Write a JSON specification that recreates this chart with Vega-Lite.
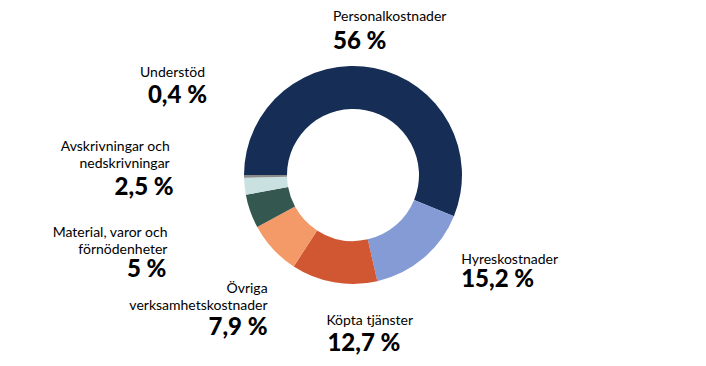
{
  "$schema": "https://vega.github.io/schema/vega-lite/v6.json",
  "width": 706,
  "height": 350,
  "autosize": {"type": "none"},
  "padding": {"left": 0, "top": 0, "right": 0, "bottom": 16},
  "background": "white",
  "config": {"view": {"stroke": null}},
  "data": {"values": [
    {"cat": "Personalkostnader", "value": 56, "idx": 0, "pct": "56 %"},
    {"cat": "Hyreskostnader", "value": 15.2, "idx": 1, "pct": "15,2 %"},
    {"cat": "Köpta tjänster", "value": 12.7, "idx": 2, "pct": "12,7 %"},
    {"cat": "Övriga\nverksamhetskostnader", "value": 7.9, "idx": 3, "pct": "7,9 %"},
    {"cat": "Material, varor och\nförnödenheter", "value": 5, "idx": 4, "pct": "5 %"},
    {"cat": "Avskrivningar och\nnedskrivningar", "value": 2.5, "idx": 5, "pct": "2,5 %"},
    {"cat": "Understöd", "value": 0.4, "idx": 6, "pct": "0,4 %"}
  ]},
  "layer": [
    {
      "mark": {"type": "arc", "innerRadius": 66, "outerRadius": 109},
      "encoding": {
        "theta": {"field": "value", "type": "quantitative", "stack": true, "scale": {"range": [-1.5708, 4.7124]}},
        "order": {"field": "idx", "type": "quantitative"},
        "color": {"field": "cat", "type": "nominal", "legend": null, "sort": null,
          "scale": {"domain": ["Personalkostnader", "Hyreskostnader", "Köpta tjänster", "Övriga\nverksamhetskostnader", "Material, varor och\nförnödenheter", "Avskrivningar och\nnedskrivningar", "Understöd"],
            "range": ["#162d55", "#849bd5", "#d15632", "#f49a69", "#34574f", "#c9e1e1", "#8a8a8a"]}}
      }
    },
    {"mark": {"type": "text", "radius": 130, "align": "left", "baseline": "alphabetic", "dx": -45, "dy": -26, "font": "Lato", "fontSize": 14, "lineBreak": "\n", "lineHeight": 17, "color": "#000000"},
     "encoding": {"theta": {"field": "value", "type": "quantitative", "stack": true}, "order": {"field": "idx", "type": "quantitative"}, "detail": {"field": "cat"}, "text": {"condition": {"test": "datum.idx == 0", "field": "cat"}, "value": ""}}},
    {"mark": {"type": "text", "radius": 130, "align": "left", "baseline": "alphabetic", "dx": -45, "dy": 2, "font": "Lato", "fontSize": 24, "fontWeight": 900, "color": "#000000"},
     "encoding": {"theta": {"field": "value", "type": "quantitative", "stack": true}, "order": {"field": "idx", "type": "quantitative"}, "detail": {"field": "cat"}, "text": {"condition": {"test": "datum.idx == 0", "field": "pct"}, "value": ""}}},
    {"mark": {"type": "text", "radius": 130, "align": "left", "baseline": "alphabetic", "dx": 24, "dy": -10, "font": "Lato", "fontSize": 14, "lineBreak": "\n", "lineHeight": 17, "color": "#000000"},
     "encoding": {"theta": {"field": "value", "type": "quantitative", "stack": true}, "order": {"field": "idx", "type": "quantitative"}, "detail": {"field": "cat"}, "text": {"condition": {"test": "datum.idx == 1", "field": "cat"}, "value": ""}}},
    {"mark": {"type": "text", "radius": 130, "align": "left", "baseline": "alphabetic", "dx": 24, "dy": 13, "font": "Lato", "fontSize": 24, "fontWeight": 900, "color": "#000000"},
     "encoding": {"theta": {"field": "value", "type": "quantitative", "stack": true}, "order": {"field": "idx", "type": "quantitative"}, "detail": {"field": "cat"}, "text": {"condition": {"test": "datum.idx == 1", "field": "pct"}, "value": ""}}},
    {"mark": {"type": "text", "radius": 130, "align": "left", "baseline": "alphabetic", "dx": -4, "dy": 22, "font": "Lato", "fontSize": 14, "lineBreak": "\n", "lineHeight": 17, "color": "#000000"},
     "encoding": {"theta": {"field": "value", "type": "quantitative", "stack": true}, "order": {"field": "idx", "type": "quantitative"}, "detail": {"field": "cat"}, "text": {"condition": {"test": "datum.idx == 2", "field": "cat"}, "value": ""}}},
    {"mark": {"type": "text", "radius": 130, "align": "left", "baseline": "alphabetic", "dx": -3, "dy": 48, "font": "Lato", "fontSize": 24, "fontWeight": 900, "color": "#000000"},
     "encoding": {"theta": {"field": "value", "type": "quantitative", "stack": true}, "order": {"field": "idx", "type": "quantitative"}, "detail": {"field": "cat"}, "text": {"condition": {"test": "datum.idx == 2", "field": "pct"}, "value": ""}}},
    {"mark": {"type": "text", "radius": 130, "align": "right", "baseline": "alphabetic", "dx": 10, "dy": 30, "font": "Lato", "fontSize": 14, "lineBreak": "\n", "lineHeight": 17, "color": "#000000"},
     "encoding": {"theta": {"field": "value", "type": "quantitative", "stack": true}, "order": {"field": "idx", "type": "quantitative"}, "detail": {"field": "cat"}, "text": {"condition": {"test": "datum.idx == 3", "field": "cat"}, "value": ""}}},
    {"mark": {"type": "text", "radius": 130, "align": "right", "baseline": "alphabetic", "dx": 10, "dy": 72, "font": "Lato", "fontSize": 24, "fontWeight": 900, "color": "#000000"},
     "encoding": {"theta": {"field": "value", "type": "quantitative", "stack": true}, "order": {"field": "idx", "type": "quantitative"}, "detail": {"field": "cat"}, "text": {"condition": {"test": "datum.idx == 3", "field": "pct"}, "value": ""}}},
    {"mark": {"type": "text", "radius": 130, "align": "right", "baseline": "alphabetic", "dx": -63, "dy": 19, "font": "Lato", "fontSize": 14, "lineBreak": "\n", "lineHeight": 17, "color": "#000000"},
     "encoding": {"theta": {"field": "value", "type": "quantitative", "stack": true}, "order": {"field": "idx", "type": "quantitative"}, "detail": {"field": "cat"}, "text": {"condition": {"test": "datum.idx == 4", "field": "cat"}, "value": ""}}},
    {"mark": {"type": "text", "radius": 130, "align": "right", "baseline": "alphabetic", "dx": -64, "dy": 59, "font": "Lato", "fontSize": 24, "fontWeight": 900, "color": "#000000"},
     "encoding": {"theta": {"field": "value", "type": "quantitative", "stack": true}, "order": {"field": "idx", "type": "quantitative"}, "detail": {"field": "cat"}, "text": {"condition": {"test": "datum.idx == 4", "field": "pct"}, "value": ""}}},
    {"mark": {"type": "text", "radius": 130, "align": "right", "baseline": "alphabetic", "dx": -54, "dy": -37, "font": "Lato", "fontSize": 14, "lineBreak": "\n", "lineHeight": 17, "color": "#000000"},
     "encoding": {"theta": {"field": "value", "type": "quantitative", "stack": true}, "order": {"field": "idx", "type": "quantitative"}, "detail": {"field": "cat"}, "text": {"condition": {"test": "datum.idx == 5", "field": "cat"}, "value": ""}}},
    {"mark": {"type": "text", "radius": 130, "align": "right", "baseline": "alphabetic", "dx": -50, "dy": 7, "font": "Lato", "fontSize": 24, "fontWeight": 900, "color": "#000000"},
     "encoding": {"theta": {"field": "value", "type": "quantitative", "stack": true}, "order": {"field": "idx", "type": "quantitative"}, "detail": {"field": "cat"}, "text": {"condition": {"test": "datum.idx == 5", "field": "pct"}, "value": ""}}},
    {"mark": {"type": "text", "radius": 130, "align": "right", "baseline": "alphabetic", "dx": -18, "dy": -100, "font": "Lato", "fontSize": 14, "lineBreak": "\n", "lineHeight": 17, "color": "#000000"},
     "encoding": {"theta": {"field": "value", "type": "quantitative", "stack": true}, "order": {"field": "idx", "type": "quantitative"}, "detail": {"field": "cat"}, "text": {"condition": {"test": "datum.idx == 6", "field": "cat"}, "value": ""}}},
    {"mark": {"type": "text", "radius": 130, "align": "right", "baseline": "alphabetic", "dx": -16, "dy": -74, "font": "Lato", "fontSize": 24, "fontWeight": 900, "color": "#000000"},
     "encoding": {"theta": {"field": "value", "type": "quantitative", "stack": true}, "order": {"field": "idx", "type": "quantitative"}, "detail": {"field": "cat"}, "text": {"condition": {"test": "datum.idx == 6", "field": "pct"}, "value": ""}}}
  ]
}
